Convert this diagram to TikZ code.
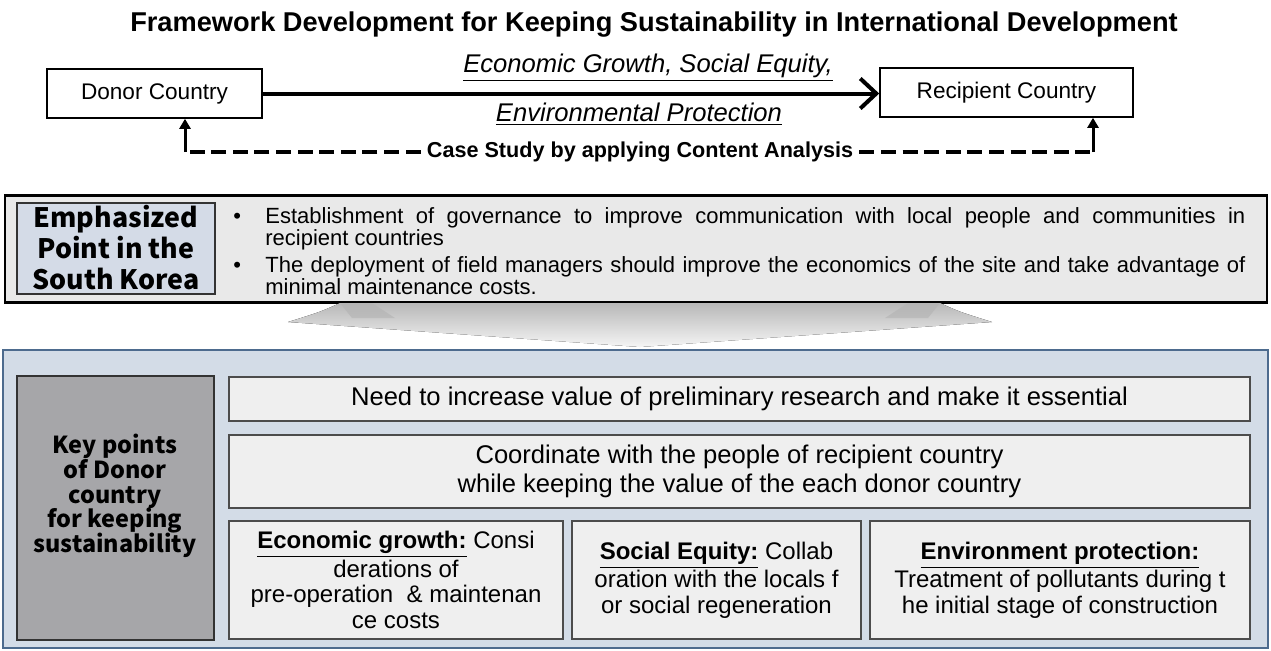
\documentclass[tikz,border=0pt]{standalone}
\usepackage{fontspec}
\setmainfont{Liberation Sans}
\newfontfamily\krfont{Noto Sans CJK KR}
\usetikzlibrary{arrows.meta}
\definecolor{empfill}{HTML}{E9E9E9}
\definecolor{labfill}{HTML}{D4DBE7}
\definecolor{bigfill}{HTML}{D3DCE7}
\definecolor{bigline}{HTML}{4D6B8E}
\definecolor{keyfill}{HTML}{A6A6A9}
\definecolor{rowfill}{HTML}{EFEFEF}
\newcommand{\bulitem}[1]{\noindent\llap{\makebox[16pt][l]{\textbullet}}#1\par}
\newcommand{\krbold}[2]{\krfont\bfseries\fontsize{#1}{#2}\selectfont\setlength{\lineskiplimit}{-20pt}}
\tikzset{
  country/.style={draw,line width=0.8pt,minimum height=24.5pt,font=\fontsize{11.3}{13}\selectfont},
  rowbox/.style={draw=black!70,line width=1pt,fill=rowfill,align=center,font=\fontsize{12.8}{14.5}\selectfont},
  smallbox/.style={rowbox,minimum height=59pt,font=\fontsize{12}{12.75}\selectfont},
  dashline/.style={line width=1.7pt,dash pattern=on 7.5pt off 3.3pt},
  uparrow/.style={line width=1.5pt,-{Triangle[length=5pt,width=5.5pt]}},
}
\begin{document}
\begin{tikzpicture}[x=0.5pt,y=-0.5pt,>=Latex]
\useasboundingbox (0,0) rectangle (1271,650);
\node (title) at (654,25) {\fontsize{13.6}{16}\selectfont\bfseries Framework Development for Keeping Sustainability in International Development};
% donor / recipient
\node[country,minimum width=107.5pt] (donor) at (154.5,93.5) {Donor Country};
\node[country,minimum width=126.5pt] (recip) at (1006.5,92.5) {Recipient Country};
\draw[line width=2pt,-{Straight Barb[length=8pt,width=15pt,line width=2pt]}] (donor.east) -- (recip.west|-donor.east);
\node (econ) at (648,68) {\fontsize{12.8}{15}\selectfont\itshape\underline{Economic Growth, Social Equity,}};
\node (envi) at (639,114) {\fontsize{12.8}{15}\selectfont\itshape\underline{Environmental Protection}};
\node[inner xsep=3pt] (case) at (640,152) {\fontsize{10.8}{13}\selectfont\bfseries Case Study by applying Content Analysis};
\coordinate (dl) at (185,152);
\coordinate (dr) at (1093,152);
\draw[dashline] (case.west) -- (dl);
\draw[dashline] (case.east) -- (dr);
\draw[uparrow] (dl) -- (dl|-donor.south);
\draw[uparrow] (dr) -- (dr|-recip.south);
% emphasized point
\node[draw,line width=1.2pt,fill=empfill,minimum width=631pt,minimum height=53.5pt] (emp) at (636,249) {};
\node[draw=black!80,line width=1pt,fill=labfill,minimum width=99pt,minimum height=45.5pt] (emplab) at (116,248.5) {};
\node[align=center,font=\krbold{13.4}{15.5}] (emptxt) at (116,248) {Emphasized\\Point in the\\South Korea};
\node[anchor=north west,inner sep=0pt,text width=490pt,align=justify,font=\fontsize{11}{11.2}\selectfont] (bul) at (265,207) {%
\bulitem{Establishment of governance to improve communication with local people and communities in\linebreak recipient countries}\vspace{2.2pt}
\bulitem{The deployment of field managers should improve the economics of the site and take advantage of\linebreak minimal maintenance costs.}};
% big arrow
\fill[top color=black!28,bottom color=black!4] (340,303) .. controls (320,312) .. (288,322) -- (640,347) -- (992,322) .. controls (960,312) .. (940,303) -- cycle;
\fill[black!30,opacity=0.6] (340,303) -- (372,303) -- (395,318) -- (352,318) -- cycle;
\fill[black!30,opacity=0.6] (940,303) -- (908,303) -- (885,318) -- (928,318) -- cycle;
% key points
\node[draw=bigline,line width=1.1pt,fill=bigfill,minimum width=632.5pt,minimum height=149pt] (big) at (635.5,499) {};
\node[draw=black!80,line width=1.1pt,fill=keyfill,minimum width=98.5pt,minimum height=132pt] (key) at (115.5,508) {};
\node[align=center,font=\krbold{11.7}{12.3}] (keytxt) at (115,496) {Key points\\of Donor\\country\\for keeping\\sustainability};
\node[rowbox,minimum width=510.5pt,minimum height=22pt] (row1) at (739.5,399) {Need to increase value of preliminary research and make it essential};
\node[rowbox,minimum width=510.5pt,minimum height=36.5pt] (row2) at (739.5,471.5) {Coordinate with the people of recipient country\\while keeping the value of the each donor country};
\node[smallbox,minimum width=167pt] (ecobox) at (396,580) {\underline{\textbf{Economic growth:}} Consi\\derations of\\pre-operation \ \& maintenan\\ce costs};
\node[smallbox,minimum width=144.5pt] (socbox) at (716.5,580) {\underline{\textbf{Social Equity:}} Collab\\oration with the locals f\\or social regeneration};
\node[smallbox,minimum width=190pt] (envbox) at (1060,580) {\underline{\textbf{Environment protection:}}\\Treatment of pollutants during t\\he initial stage of construction};
\end{tikzpicture}
\end{document}
